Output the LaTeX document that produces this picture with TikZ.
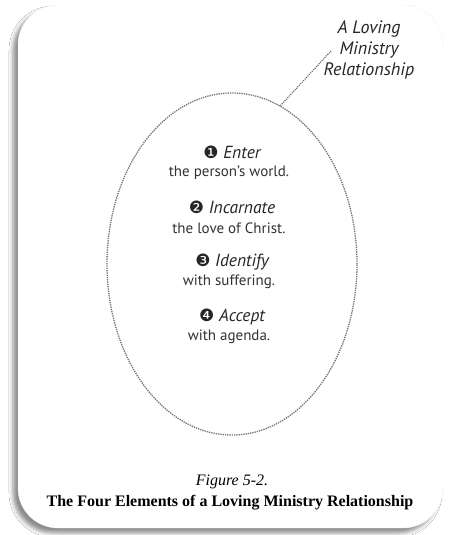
\documentclass[tikz,border=0pt]{standalone}
\usepackage{fontspec}
\setmainfont{Liberation Serif}
\newfontfamily\myriad{PT Sans}
\newfontfamily\dingfont{DejaVu Sans}
\usetikzlibrary{shapes.geometric,shadows.blur}

\begin{document}
\begin{tikzpicture}
[x=1pt, y=-1pt,
 head/.style={font=\myriad\fontsize{17.5}{20}\selectfont\itshape, text=black!85},
 desc/.style={font=\myriad\fontsize{15}{17}\selectfont, text=black!80},
 ring/.style={ellipse, draw=black!55, densely dotted, line width=1.3pt, minimum width=250, minimum height=342},
 frame/.style={fill=white, draw=black!6, rounded corners=40pt,
   blur shadow={shadow xshift=-5pt, shadow yshift=-5pt, shadow blur radius=4pt, shadow opacity=45}}]
\useasboundingbox (0,0) rectangle (450,535);
\fill[white] (0,0) rectangle (450,535);
\draw[frame] (18,5) rectangle (443,528);
% the relationship
\node[ring] (ring) at (232,264) {};
\node[font=\myriad\fontsize{18}{21}\selectfont\itshape, align=center, text=black!85] (label) at (369,50) {A Loving\\Ministry\\Relationship};
\coordinate (tip) at (331,51);
\draw[black!60, densely dotted, line width=1.1pt] (ring.73) -- (tip);
% the four elements
\node[head] (enter) at (232,152) {{\dingfont\upshape\fontsize{17}{20}\selectfont ❶}~Enter};
\node[desc] (enterdesc) at (229,173) {the person’s world.};
\node[head] (incarnate) at (232,207) {{\dingfont\upshape\fontsize{17}{20}\selectfont ❷}~Incarnate};
\node[desc] (incarnatedesc) at (229,228) {the love of Christ.};
\node[head] (identify) at (232,262) {{\dingfont\upshape\fontsize{17}{20}\selectfont ❸}~Identify};
\node[desc] (identifydesc) at (229,282) {with suffering.};
\node[head] (accept) at (232,317) {{\dingfont\upshape\fontsize{17}{20}\selectfont ❹}~Accept};
\node[desc] (acceptdesc) at (229,337) {with agenda.};
% caption
\node[font=\fontsize{16}{18}\selectfont\itshape] (fig) at (232,482) {Figure 5-2.};
\node[font=\fontsize{16}{18}\selectfont\bfseries] (title) at (230,503) {The Four Elements of a Loving Ministry Relationship};
\end{tikzpicture}
\end{document}
